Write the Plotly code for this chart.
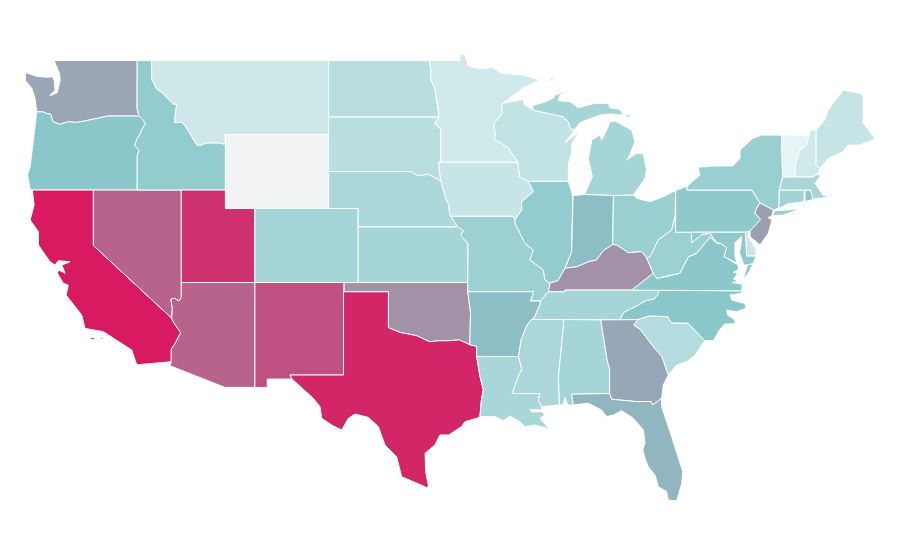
import plotly.graph_objects as go
from plotly.colors import sample_colorscale

# state values (Wyoming has no value)
states = ["WA", "OR", "CA", "NV", "ID", "MT", "WY", "UT", "AZ", "NM", "CO", "ND", "SD", "NE", "KS", "OK", "TX",
          "MN", "IA", "MO", "AR", "LA", "WI", "IL", "MI", "IN", "OH", "KY", "TN", "MS", "AL", "GA", "FL", "SC",
          "NC", "VA", "WV", "PA", "NY", "NJ", "DE", "MD", "CT", "RI", "MA", "VT", "NH", "ME"]
values = [52, 40, 100, 75, 36, 11, None, 92, 75, 81, 28, 20, 20, 25, 28, 59, 96,
          10, 14, 32, 43, 27, 16, 36, 28, 43, 33, 59, 28, 26, 28, 51, 46, 22,
          40, 39, 32, 38, 33, 54, 13, 38, 30, 39, 27, 1, 10, 15]

colorscale = [[0, "#e8f5f6"], [0.4, "#8ac7ca"], [1, "#d81b60"]]
no_data_color = "#f2f3f5"

# state outlines as lon, lat
WA = [(-117.03, 49), (-122.67, 49), (-122.45, 48.6), (-122.3, 48.3), (-122.25, 47.95), (-122.37, 47.5), (-122.45, 47.25),
      (-122.95, 47.1), (-122.6, 47.4), (-122.65, 47.9), (-122.75, 48.12), (-123.16, 48.1), (-123.84, 48.15),
      (-124.63, 48.36), (-124.6, 47.9), (-124.18, 47.5), (-123.96, 46.96), (-123.84, 46.23), (-123.4, 46.22),
      (-123.2, 46.15), (-122.9, 46.1), (-122.75, 45.7), (-122.3, 45.55), (-121.7, 45.7), (-121.2, 45.65), (-120.6, 45.73),
      (-120, 45.82), (-119.3, 45.93), (-119, 46), (-116.92, 46), (-117.04, 46.42)]
OR = [(-123.84, 46.23), (-123.4, 46.22), (-123.2, 46.15), (-122.9, 46.1), (-122.75, 45.7), (-122.3, 45.55),
      (-121.7, 45.7), (-121.2, 45.65), (-120.6, 45.73), (-120, 45.82), (-119.3, 45.93), (-119, 46), (-116.92, 46),
      (-116.7, 45.85), (-116.46, 45.6), (-116.7, 45.3), (-116.85, 45), (-117.05, 44.75), (-117.2, 44.4),
      (-116.9, 44.15), (-117.03, 43.83), (-117.03, 42), (-124.2, 42), (-124.29, 42.09), (-124.47, 42.81), (-124.29, 43.26),
      (-124.07, 44.7), (-123.89, 46.05)]
CA = [(-124.14, 42), (-120, 42), (-120, 39), (-114.69, 35.07), (-114.57, 34.85), (-114.08, 34.29), (-114.46, 33.71),
      (-114.72, 33.4), (-114.72, 32.72), (-117.06, 32.55), (-117.4, 33.35), (-118.42, 33.89), (-119.32, 34.34),
      (-120.57, 34.52), (-120.79, 35.24), (-121.85, 36.32), (-121.7, 36.86), (-122.04, 36.96), (-122.44, 37.5),
      (-122.37, 37.68), (-121.92, 37.5), (-122.14, 37.95), (-121.58, 38.12), (-122.37, 38.18), (-122.6, 37.95),
      (-122.94, 38.12), (-123.73, 39.03), (-123.73, 39.75), (-124.29, 40.38), (-124.02, 41.19), (-124.14, 42), None,
      (-120.2, 34.02), (-119.9, 34.02), (-119.9, 33.92), (-120.2, 33.92), (-120.2, 34.02), None,
      (-119.55, 34.02), (-119.35, 34.02), (-119.35, 33.95), (-119.55, 33.95), (-119.55, 34.02)]
NV = [(-120, 42), (-114.04, 42), (-114.04, 36.2), (-114.2, 36), (-114.5, 36.15), (-114.75, 36.1), (-114.65, 35.6),
      (-114.69, 35.07), (-120, 39)]
ID = [(-117.03, 49), (-116.05, 49), (-116.05, 48), (-115.7, 47.45), (-115.3, 47.25), (-114.95, 46.95),
      (-114.6, 46.65), (-114.35, 46.65), (-114.45, 46.15), (-114.5, 45.65), (-114, 45.65), (-113.8, 45.5),
      (-113.45, 45.05), (-113, 44.45), (-112.8, 44.4), (-112.3, 44.55), (-111.5, 44.55), (-111.05, 44.47),
      (-111.05, 42), (-117.03, 42), (-117.03, 43.83), (-116.9, 44.15), (-117.2, 44.4), (-117.05, 44.75), (-116.85, 45),
      (-116.7, 45.3), (-116.46, 45.6), (-116.7, 45.85), (-116.92, 46), (-117.04, 46.42)]
MT = [(-116.05, 49), (-104.05, 49), (-104.05, 45), (-111.05, 45), (-111.05, 44.47), (-111.5, 44.55), (-112.3, 44.55),
      (-112.8, 44.4), (-113, 44.45), (-113.45, 45.05), (-113.8, 45.5), (-114, 45.65), (-114.5, 45.65), (-114.45, 46.15),
      (-114.35, 46.65), (-114.6, 46.65), (-114.95, 46.95), (-115.3, 47.25), (-115.7, 47.45), (-116.05, 48)]
WY = [(-111.05, 45), (-104.05, 45), (-104.05, 41), (-111.05, 41)]
UT = [(-114.04, 42), (-111.05, 42), (-111.05, 41), (-109.05, 41), (-109.05, 37), (-114.04, 37)]
AZ = [(-114.04, 37), (-109.05, 37), (-109.05, 31.33), (-111.07, 31.33), (-114.81, 32.5), (-114.72, 32.72),
      (-114.72, 33.4), (-114.46, 33.71), (-114.08, 34.29), (-114.57, 34.85), (-114.69, 35.07), (-114.65, 35.6),
      (-114.75, 36.1), (-114.5, 36.15), (-114.2, 36), (-114.04, 36.2)]
NM = [(-109.05, 37), (-103, 37), (-103.04, 32), (-106.67, 32), (-106.53, 31.78), (-108.21, 31.78), (-108.21, 31.33),
      (-109.05, 31.33)]
CO = [(-109.05, 41), (-102.05, 41), (-102.05, 37), (-109.05, 37)]
ND = [(-104.05, 49), (-97.23, 49), (-97.1, 48.5), (-97.15, 48), (-96.85, 47.5), (-96.75, 46.9), (-96.6, 46.3),
      (-96.56, 45.94), (-104.05, 45.94)]
SD = [(-104.05, 45.94), (-96.56, 45.94), (-96.85, 45.6), (-96.45, 45.3), (-96.45, 43.5), (-96.6, 43.5), (-96.45, 42.5),
      (-97.3, 42.85), (-98, 42.77), (-98.5, 43), (-104.05, 43)]
NE = [(-104.05, 43), (-98.5, 43), (-98, 42.77), (-97.3, 42.85), (-96.45, 42.5), (-96.25, 42), (-96.1, 41.5),
      (-95.9, 41.2), (-95.85, 40.7), (-95.3, 40), (-102.05, 40), (-102.05, 41), (-104.05, 41)]
KS = [(-102.05, 40), (-95.3, 40), (-94.9, 39.8), (-95.1, 39.55), (-94.6, 39.1), (-94.62, 37), (-102.05, 37)]
OK = [(-103, 37), (-94.62, 37), (-94.62, 36.5), (-94.43, 35.4), (-94.48, 33.64), (-95.2, 33.9), (-96, 33.85),
      (-96.6, 33.85), (-97.2, 33.8), (-97.7, 33.98), (-98.1, 34.13), (-99.2, 34.3), (-100, 34.56), (-100, 36.5),
      (-103, 36.5)]
TX = [(-103.04, 36.5), (-100, 36.5), (-100, 34.56), (-99.2, 34.3), (-98.1, 34.13), (-97.7, 33.98), (-97.2, 33.8),
      (-96.6, 33.85), (-96, 33.85), (-95.2, 33.9), (-94.48, 33.64), (-94.01, 33.55), (-94.01, 33), (-93.78, 31.9),
      (-93.56, 31.2), (-93.7, 30.6), (-93.79, 29.75), (-94.01, 29.66), (-94.8, 29.48), (-95.04, 29.21), (-95.9, 28.76),
      (-96.5, 28.76), (-96.84, 28.22), (-97.51, 27.77), (-97.47, 26.77), (-97.29, 26.05), (-97.35, 25.88), (-97.63, 26),
      (-99.1, 26.5), (-99.44, 27.58), (-100.23, 28.22), (-100.68, 29.21), (-101.36, 29.71), (-102.26, 29.89),
      (-102.71, 29.66), (-103.16, 29.03), (-103.73, 29.24), (-104.52, 29.66), (-104.64, 30.29), (-105.09, 30.74),
      (-106.53, 31.78), (-106.67, 32), (-103.04, 32)]
MN = [(-97.23, 49), (-95.15, 49), (-95.15, 49.38), (-94.8, 49.3), (-94.6, 48.7), (-93.8, 48.55), (-92.95, 48.62),
      (-92.31, 48.31), (-90.84, 48.22), (-89.72, 47.95), (-90.84, 47.51), (-92.21, 46.69), (-92.3, 46.65), (-92.29, 46.1),
      (-92.85, 45.6), (-92.75, 45), (-92.8, 44.75), (-91.9, 44.3), (-91.22, 43.5), (-96.45, 43.5), (-96.45, 45.3),
      (-96.85, 45.6), (-96.56, 45.94), (-96.6, 46.3), (-96.75, 46.9), (-96.85, 47.5), (-97.15, 48), (-97.1, 48.5)]
IA = [(-96.45, 43.5), (-91.22, 43.5), (-91.15, 43), (-91.1, 42.7), (-90.51, 42.47), (-90.17, 41.91), (-90.96, 41.37),
      (-90.96, 40.92), (-91.42, 40.38), (-91.53, 40.58), (-95.77, 40.58), (-95.85, 40.7), (-95.9, 41.2),
      (-96.1, 41.5), (-96.25, 42), (-96.45, 42.5), (-96.6, 43.5)]
MO = [(-95.77, 40.58), (-91.53, 40.58), (-91.42, 40.38), (-91.41, 40.2), (-90.74, 39.12), (-90.17, 38.76),
      (-90.4, 38.22), (-89.49, 37.68), (-89.38, 37.14), (-89.04, 36.96), (-89.15, 36.5), (-89.7, 36), (-90.37, 36),
      (-90.15, 36.5), (-94.62, 36.5), (-94.62, 37), (-94.6, 39.1), (-95.1, 39.55), (-94.9, 39.8), (-95.3, 40)]
AR = [(-94.62, 36.5), (-90.15, 36.5), (-90.37, 36), (-89.7, 36), (-89.7, 35.85), (-90.1, 35.1), (-90.3, 35),
      (-90.6, 34.7), (-91, 33.9), (-91.17, 33), (-94.01, 33), (-94.01, 33.55), (-94.48, 33.64), (-94.43, 35.4)]
LA = [(-94.01, 33), (-91.17, 33), (-91, 32.5), (-90.95, 32.3), (-91.15, 32), (-91.6, 31), (-89.72, 31), (-89.83, 30.65),
      (-89.6, 30.29), (-89.6, 30.11), (-90.4, 30.14), (-90.3, 30), (-89.6, 30.02), (-89.38, 29.84), (-89.72, 29.66),
      (-89.11, 29.08), (-89.6, 29.2), (-90.06, 29.3), (-90.74, 29.2), (-91.07, 29.47), (-91.75, 29.78), (-92.2, 29.53),
      (-92.77, 29.75), (-93.79, 29.75), (-93.7, 30.6), (-93.56, 31.2), (-93.78, 31.9)]
WI = [(-92.21, 46.69), (-90.84, 46.9), (-90.8, 46.63), (-90.17, 46.32), (-88.14, 45.96), (-87.8, 45.69), (-87.64, 45.33),
      (-87.41, 45.19), (-88.02, 44.56), (-87.01, 45.19), (-87.57, 44.52), (-87.57, 43.98), (-87.8, 43.44), (-87.8, 42.47),
      (-90.51, 42.47), (-91.1, 42.7), (-91.15, 43), (-91.22, 43.5), (-91.9, 44.3), (-92.8, 44.75), (-92.75, 45),
      (-92.85, 45.6), (-92.29, 46.1), (-92.3, 46.65)]
IL = [(-87.8, 42.47), (-90.51, 42.47), (-90.17, 41.91), (-90.96, 41.37), (-90.96, 40.92), (-91.42, 40.38), (-91.41, 40.2),
      (-90.74, 39.12), (-90.17, 38.76), (-90.4, 38.22), (-89.49, 37.68), (-89.38, 37.14), (-89.04, 36.96), (-88.5, 37.1),
      (-88.02, 37.77), (-87.57, 38.67), (-87.5, 41.64), (-87.57, 41.9)]
MI = [(-90.24, 46.56), (-89.38, 46.77), (-88.82, 46.96), (-88.7, 47.14), (-87.8, 47.4), (-88.36, 47.14), (-88.48, 46.83),
      (-87.68, 46.77), (-87.12, 46.45), (-85.99, 46.69), (-85.09, 46.69), (-84.97, 46.45), (-84.29, 46.36), (-84.07, 46.05),
      (-84.97, 46.11), (-85.65, 46.05), (-86.44, 45.82), (-87.01, 45.64), (-87.41, 45.24), (-87.64, 45.33), (-87.8, 45.69),
      (-88.14, 45.96), (-90.17, 46.32), (-90.24, 46.56), None,
      (-86.7, 41.76), (-84.74, 41.7), (-83.39, 41.73), (-82.6, 42.63), (-82.49, 43.08), (-82.72, 43.98), (-83.16, 43.98),
      (-83.89, 43.62), (-83.73, 43.71), (-83.28, 44.61), (-83.5, 45.24), (-84.64, 45.73), (-84.97, 45.69), (-85.2, 45.24),
      (-85.54, 44.7), (-85.65, 44.97), (-86.21, 44.7), (-86.44, 43.71), (-86.17, 42.72), (-86.7, 41.76), None,
      (-89.03, 47.9), (-88.7, 48.05), (-88.8, 48.08), (-89.1, 47.95), (-89.03, 47.9), None,
      (-83.9, 46.05), (-83.6, 46.1), (-83.6, 45.95), (-83.9, 45.95), (-83.9, 46.05)]
IN = [(-87.48, 41.7), (-86.7, 41.76), (-84.74, 41.7), (-84.79, 39.05), (-85.43, 38.72), (-85.88, 38.22), (-86.44, 38.12),
      (-87.23, 37.85), (-88.02, 37.77), (-87.57, 38.67)]
OH = [(-84.74, 41.7), (-83.39, 41.73), (-83.16, 41.55), (-82.26, 41.37), (-81.36, 41.64), (-80.52, 41.98), (-80.57, 40.56),
      (-80.79, 39.84), (-81.7, 39.3), (-82.26, 38.39), (-82.48, 38.31), (-82.82, 38.67), (-83.73, 38.61), (-84.52, 39.03),
      (-84.79, 39.05)]
KY = [(-89.15, 36.5), (-89.04, 36.96), (-88.5, 37.1), (-88.02, 37.77), (-87.23, 37.85), (-86.44, 38.12), (-85.88, 38.22),
      (-85.43, 38.72), (-84.79, 39.05), (-84.52, 39.03), (-83.73, 38.61), (-82.82, 38.67), (-82.48, 38.31), (-82.04, 37.5),
      (-83.5, 36.59), (-88.02, 36.59), (-88.05, 36.5)]
TN = [(-90.3, 35), (-90.1, 35.1), (-89.7, 35.85), (-89.7, 36), (-89.15, 36.5), (-88.05, 36.5), (-88.02, 36.59),
      (-83.5, 36.59), (-81.68, 36.59), (-81.7, 36.35), (-82, 36.1), (-82.6, 36), (-83.1, 35.75), (-84, 35.4),
      (-84.32, 34.99)]
MS = [(-90.3, 35), (-88.2, 35), (-88.1, 34.9), (-88.47, 31.9), (-88.4, 30.38), (-89.6, 30.29), (-89.83, 30.65),
      (-89.72, 31), (-91.6, 31), (-91.15, 32), (-90.95, 32.3), (-91, 32.5), (-91.17, 33), (-91, 33.9), (-90.6, 34.7)]
AL = [(-88.2, 35), (-85.6, 34.98), (-85.18, 32.87), (-85, 32.3), (-85, 31), (-87.57, 30.96), (-87.46, 30.38), (-87.85, 30.38),
      (-88.02, 30.8), (-88.15, 30.38), (-88.4, 30.38), (-88.47, 31.9), (-88.1, 34.9)]
GA = [(-85.6, 34.98), (-83.1, 35), (-83.35, 34.7), (-82.9, 34.45), (-82, 33.5), (-81.45, 33), (-81.02, 32),
      (-81.36, 31.46), (-81.47, 30.74), (-82.08, 30.38), (-82.2, 30.57), (-83.16, 30.56), (-84.86, 30.69), (-85, 31),
      (-85, 32.3), (-85.18, 32.87)]
FL = [(-87.57, 30.96), (-85, 31), (-84.86, 30.69), (-83.16, 30.56), (-82.2, 30.57), (-82.08, 30.38), (-81.47, 30.74),
      (-81.47, 30.29), (-80.79, 28.66), (-80.04, 26.77), (-80.11, 26.14), (-80.45, 25.2), (-81.02, 25.24), (-81.14, 25.7),
      (-81.7, 25.96), (-81.92, 26.59), (-82.38, 27.04), (-82.6, 27.5), (-82.75, 27.95), (-82.6, 28.31), (-82.71, 29.03),
      (-83.39, 29.66), (-84.18, 30.07), (-84.74, 29.84), (-85.2, 29.75), (-85.54, 30.11), (-86.44, 30.47), (-87.46, 30.38)]
SC = [(-83.1, 35), (-82.3, 35.2), (-81.05, 35.15), (-80.8, 34.82), (-79.68, 34.8), (-78.55, 33.86), (-79.2, 33.08),
      (-79.77, 32.72), (-80.45, 32.54), (-81.02, 32), (-81.45, 33), (-82, 33.5), (-82.9, 34.45), (-83.35, 34.7)]
NC = [(-84.32, 34.99), (-84, 35.4), (-83.1, 35.75), (-82.6, 36), (-82, 36.1), (-81.7, 36.35), (-81.68, 36.59),
      (-76.04, 36.55), (-76.04, 36.42), (-76.84, 36.32), (-76.72, 36.05), (-76.16, 35.96), (-75.82, 35.87), (-75.75, 35.6),
      (-76.39, 35.42), (-77.06, 35.51), (-77, 35.24), (-76.5, 34.97), (-76.5, 34.76), (-77.18, 34.76), (-77.51, 34.49),
      (-77.95, 33.87), (-78.55, 33.86), (-79.68, 34.8), (-80.8, 34.82), (-81.05, 35.15), (-82.3, 35.2), (-83.1, 35)]
VA = [(-83.5, 36.59), (-82.04, 37.5), (-81.81, 37.23), (-81.3, 37.3), (-80.23, 37.5), (-79.66, 38.39), (-79.1, 38.58),
      (-78.2, 39.45), (-77.74, 39.15), (-77.5, 39.12), (-77.05, 38.9), (-77.25, 38.4), (-76.9, 38.25),
      (-76.3, 37.95), (-76.25, 37.7), (-76.6, 37.55), (-76.3, 37.5), (-76.6, 37.2), (-76.3, 37.05), (-76.7, 37),
      (-76.3, 36.95), (-76, 36.9), (-76.04, 36.55), (-81.68, 36.59), (-83.5, 36.59), None,
      (-75.95, 37.15), (-75.65, 37.95), (-75.25, 38.03), (-75.6, 37.5), (-75.95, 37.15)]
WV = [(-80.57, 40.56), (-80.52, 39.72), (-79.44, 39.72), (-79.44, 39.15), (-78.75, 39.6), (-78.19, 39.66), (-77.74, 39.15),
      (-78.2, 39.45), (-79.1, 38.58), (-79.66, 38.39), (-80.23, 37.5), (-81.3, 37.3), (-81.81, 37.23), (-82.04, 37.5),
      (-82.48, 38.31), (-82.26, 38.39), (-81.7, 39.3), (-80.79, 39.84)]
PA = [(-80.52, 41.98), (-79.73, 42.22), (-79.76, 42), (-75.35, 42), (-75.05, 41.6), (-74.8, 41.3), (-75.07, 40.96),
      (-75.14, 40.74), (-74.76, 40.41), (-75.4, 39.8), (-75.79, 39.72), (-80.52, 39.72)]
NY = [(-79.73, 42.22), (-79.76, 42), (-75.35, 42), (-75.05, 41.6), (-74.8, 41.3), (-73.9, 40.92), (-73.56, 41.01),
      (-73.5, 41.3), (-73.5, 42), (-73.27, 42.7), (-73.34, 44.97), (-74.7, 44.97), (-75.28, 44.8), (-76.16, 44.16),
      (-76.16, 43.71), (-76.64, 43.3), (-78, 43.3), (-79, 43.23), (-78.87, 42.81), (-79.73, 42.22), None,
      (-73.9, 40.74), (-73.8, 40.88), (-72.99, 40.92), (-71.98, 41.01), (-73.2, 40.65), (-73.9, 40.61), (-73.9, 40.74)]
NJ = [(-74.8, 41.3), (-73.9, 40.92), (-74.01, 40.59), (-74.25, 40.5), (-73.98, 40.4), (-74.24, 39.66), (-74.8, 39.03),
      (-75.48, 39.48), (-75.48, 39.78), (-74.76, 40.41), (-75.14, 40.74), (-75.07, 40.96)]
DE = [(-75.79, 39.72), (-75.48, 39.78), (-75.59, 39.48), (-75.07, 38.8), (-75.07, 38.43), (-75.71, 38.43)]
MD = [(-79.44, 39.72), (-75.79, 39.72), (-75.71, 38.43), (-75.07, 38.43), (-75.25, 38.03), (-75.65, 37.95), (-75.9, 37.95),
      (-76.2, 38.6), (-76.1, 39), (-76.05, 39.5), (-76.5, 39.15), (-76.5, 38.4), (-76.35, 38.05), (-76.9, 38.25),
      (-77.25, 38.4), (-77.05, 38.9), (-77.5, 39.12), (-77.74, 39.15), (-78.19, 39.66), (-78.75, 39.6), (-79.44, 39.15)]
CT = [(-73.5, 42), (-71.8, 42), (-71.82, 41.37), (-72.9, 41.25), (-73.56, 41.01), (-73.5, 41.3)]
RI = [(-71.75, 42), (-71.38, 42), (-71.2, 41.5), (-71.75, 41.37)]
MA = [(-73.5, 42), (-73.27, 42.7), (-72.44, 42.72), (-71.3, 42.7), (-70.85, 42.87), (-70.74, 42.72), (-71.07, 42.36),
      (-70.54, 41.73), (-70.06, 41.68), (-70.2, 42.07), (-69.95, 41.7), (-70.65, 41.55), (-71.08, 41.55), (-71.2, 41.5),
      (-71.38, 42), (-71.8, 42)]
VT = [(-73.34, 44.97), (-71.46, 44.97), (-71.64, 44.43), (-72.09, 44.16), (-72.4, 43.4), (-72.44, 42.72), (-73.27, 42.7)]
NH = [(-71.46, 44.97), (-71.41, 45.24), (-71, 45.24), (-71, 43.35), (-70.74, 43.17), (-70.85, 42.87), (-71.3, 42.7),
      (-72.44, 42.72), (-72.4, 43.4), (-72.09, 44.16), (-71.64, 44.43)]
ME = [(-71, 45.24), (-70.4, 45.8), (-70.25, 46.2), (-69.94, 46.6), (-69.16, 47.4), (-68.02, 47.23), (-67.8, 47.07),
      (-67.8, 45.6), (-67.35, 45.15), (-67.01, 44.76), (-68.04, 44.43), (-68.84, 44.43), (-69.17, 44.07), (-70.17, 43.71),
      (-70.74, 43.17), (-71, 43.35)]

outlines = [WA, OR, CA, NV, ID, MT, WY, UT, AZ, NM, CO, ND, SD, NE, KS, OK, TX,
            MN, IA, MO, AR, LA, WI, IL, MI, IN, OH, KY, TN, MS, AL, GA, FL, SC,
            NC, VA, WV, PA, NY, NJ, DE, MD, CT, RI, MA, VT, NH, ME]

fig = go.Figure()
for state, value, outline in zip(states, values, outlines):
    # multi part outlines are already closed, the single ones get closed here
    if None not in outline:
        outline = outline + [outline[0]]
    lons = [p[0] if p else None for p in outline]
    lats = [p[1] if p else None for p in outline]
    if value is None:
        color = no_data_color
    else:
        color = sample_colorscale(colorscale, [value / 100])[0]
    fig.add_trace(go.Scatter(x=lons, y=lats, mode="lines", fill="toself", fillcolor=color,
                             line=dict(color="white", width=1), name=state, hoverinfo="name", showlegend=False))

# the page keeps its 8px body margin, so the plot is 892x552
fig.update_layout(width=892, height=552, margin=dict(l=0, r=0, t=0, b=0), paper_bgcolor="white",
                  plot_bgcolor="white", showlegend=False)
fig.update_xaxes(range=[-125.79, -65.31], visible=False)
fig.update_yaxes(range=[22.0, 51.84], visible=False)
fig.write_html("out.html")
